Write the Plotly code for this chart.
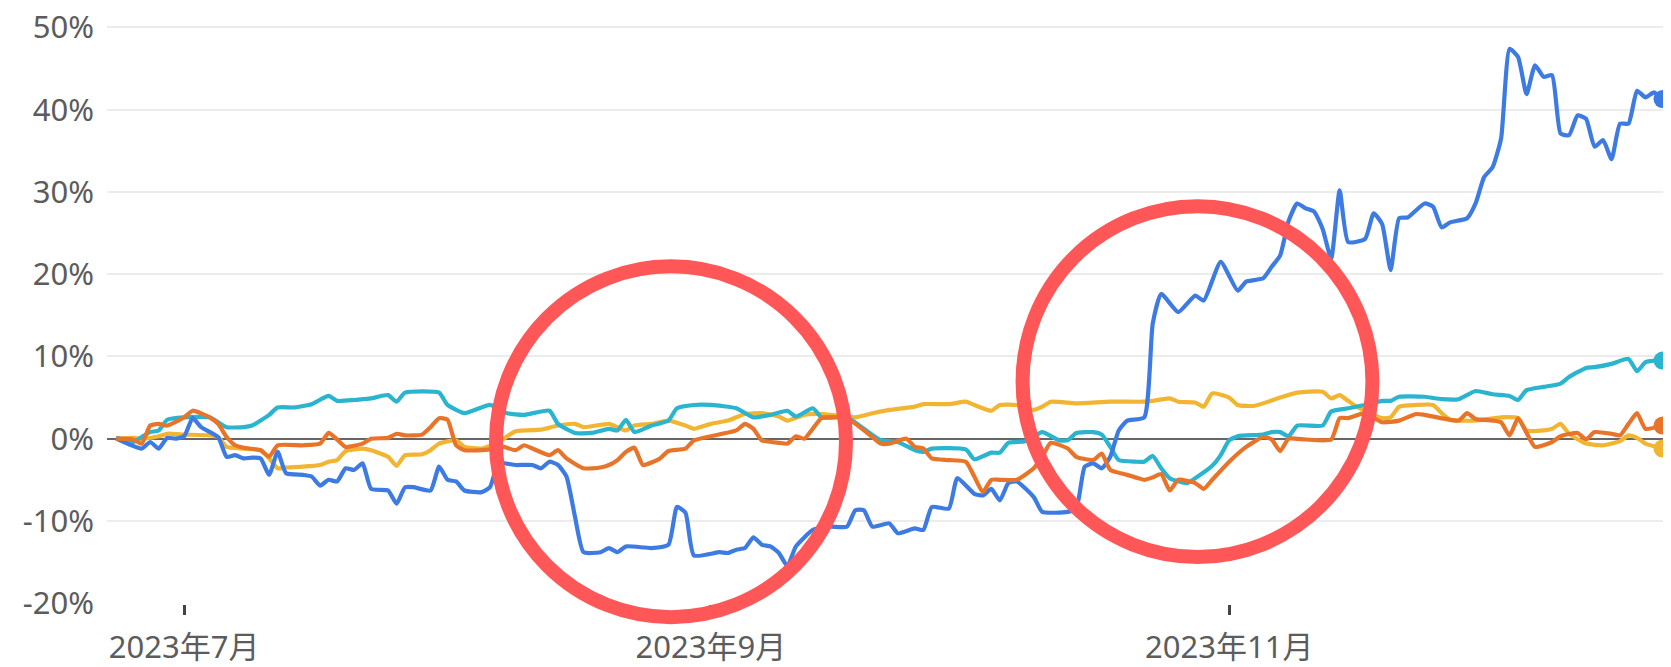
import plotly.graph_objects as go

# (date "MM-DD" in 2023, return in %)
blue_pts = [
    ("06-23", 0.0), ("06-26", -1.2), ("06-27", -0.4), ("06-28", -1.2), ("06-29", 0.1), ("06-30", 0.0),
    ("07-01", 0.3), ("07-02", 2.5), ("07-03", 1.4), ("07-05", 0.2), ("07-06", -2.2), ("07-07", -2.0),
    ("07-08", -2.4), ("07-09", -2.3), ("07-10", -2.4), ("07-11", -4.4), ("07-12", -1.6), ("07-13", -4.2),
    ("07-15", -4.4), ("07-16", -4.6), ("07-17", -5.7), ("07-18", -5.0), ("07-19", -5.2), ("07-20", -3.6),
    ("07-21", -3.8), ("07-22", -3.0), ("07-23", -6.1), ("07-25", -6.3), ("07-26", -7.9), ("07-27", -5.9),
    ("07-28", -5.9), ("07-30", -6.3), ("07-31", -3.4), ("08-01", -5.0), ("08-02", -5.2), ("08-03", -6.3),
    ("08-05", -6.5), ("08-06", -5.9), ("08-07", -3.0), ("08-09", -3.2), ("08-11", -3.2), ("08-12", -3.6),
    ("08-13", -2.8), ("08-14", -3.2), ("08-15", -4.6), ("08-16", -9.5), ("08-17", -13.8), ("08-19", -13.8),
    ("08-20", -13.3), ("08-21", -13.8), ("08-22", -13.1), ("08-25", -13.3), ("08-27", -12.9), ("08-28", -8.3),
    ("08-29", -9.0), ("08-30", -14.2), ("09-02", -13.8), ("09-03", -13.9), ("09-04", -13.5), ("09-05", -13.3),
    ("09-06", -12.0), ("09-07", -12.9), ("09-08", -13.1), ("09-09", -13.9), ("09-10", -15.5), ("09-11", -13.1),
    ("09-13", -11.1), ("09-15", -10.7), ("09-17", -10.7), ("09-18", -8.7), ("09-19", -8.7), ("09-20", -10.7),
    ("09-22", -10.3), ("09-23", -11.5), ("09-25", -10.9), ("09-26", -11.1), ("09-27", -8.3), ("09-29", -8.5),
    ("09-30", -4.8), ("10-02", -6.7), ("10-03", -6.9), ("10-04", -6.1), ("10-05", -7.5), ("10-06", -5.4),
    ("10-07", -5.2), ("10-09", -7.1), ("10-10", -8.9), ("10-13", -8.9), ("10-14", -8.5), ("10-15", -3.4),
    ("10-16", -3.0), ("10-17", -3.6), ("10-18", -2.2), ("10-19", 1.0), ("10-20", 2.2), ("10-22", 2.6),
    ("10-23", 14.0), ("10-24", 17.6), ("10-26", 15.4), ("10-28", 17.4), ("10-29", 16.8), ("10-31", 21.5),
    ("11-02", 18.0), ("11-03", 19.1), ("11-05", 19.5), ("11-06", 20.9), ("11-07", 22.3), ("11-08", 26.5),
    ("11-09", 28.6), ("11-10", 28.0), ("11-11", 27.6), ("11-12", 25.5), ("11-13", 21.9), ("11-14", 30.2),
    ("11-15", 23.9), ("11-17", 24.3), ("11-18", 27.4), ("11-19", 26.1), ("11-20", 20.5), ("11-21", 26.8),
    ("11-22", 26.9), ("11-24", 28.6), ("11-25", 28.2), ("11-26", 25.7), ("11-27", 26.3), ("11-29", 26.8),
    ("11-30", 28.6), ("12-01", 31.8), ("12-02", 33.0), ("12-03", 36.5), ("12-04", 47.4), ("12-05", 46.4),
    ("12-06", 41.9), ("12-07", 45.4), ("12-08", 44.0), ("12-09", 44.2), ("12-10", 37.1), ("12-11", 36.9),
    ("12-12", 39.3), ("12-13", 38.9), ("12-14", 35.5), ("12-15", 36.3), ("12-16", 34.0), ("12-17", 38.3),
    ("12-18", 38.3), ("12-19", 42.3), ("12-20", 41.5), ("12-21", 42.1), ("12-22", 41.3),
]

cyan_pts = [
    ("06-23", 0.1), ("06-25", -0.4), ("06-26", 0.2), ("06-27", 0.8), ("06-28", 1.0), ("06-29", 2.3),
    ("07-01", 2.6), ("07-04", 2.6), ("07-05", 2.0), ("07-06", 1.4), ("07-08", 1.4), ("07-09", 1.6),
    ("07-11", 2.9), ("07-12", 3.8), ("07-14", 3.8), ("07-16", 4.2), ("07-18", 5.2), ("07-19", 4.6),
    ("07-21", 4.7), ("07-22", 4.8), ("07-23", 4.9), ("07-25", 5.3), ("07-26", 4.5), ("07-27", 5.6),
    ("07-31", 5.6), ("08-01", 4.1), ("08-03", 3.1), ("08-06", 4.1), ("08-08", 3.1), ("08-10", 2.9),
    ("08-13", 3.4), ("08-14", 1.8), ("08-16", 0.7), ("08-18", 0.7), ("08-20", 1.2), ("08-21", 1.0),
    ("08-22", 2.3), ("08-23", 0.8), ("08-25", 1.6), ("08-27", 2.2), ("08-28", 3.7), ("08-30", 4.1),
    ("09-01", 4.1), ("09-04", 3.7), ("09-06", 2.6), ("09-08", 2.9), ("09-10", 3.4), ("09-11", 2.7),
    ("09-13", 3.7), ("09-14", 2.6), ("09-17", 2.6), ("09-19", 1.2), ("09-21", -0.2), ("09-23", -0.4),
    ("09-25", -1.4), ("09-26", -1.6), ("09-27", -1.2), ("10-01", -1.3), ("10-02", -2.5), ("10-04", -1.7),
    ("10-05", -1.7), ("10-06", -0.5), ("10-08", -0.3), ("10-10", 0.8), ("10-12", -0.2), ("10-13", -0.2),
    ("10-14", 0.7), ("10-16", 0.8), ("10-17", 0.5), ("10-18", -1.0), ("10-19", -2.6), ("10-21", -2.8),
    ("10-22", -2.8), ("10-23", -2.1), ("10-24", -3.6), ("10-25", -4.8), ("10-27", -5.4), ("10-28", -4.8),
    ("10-30", -3.3), ("10-31", -2.0), ("11-01", -0.2), ("11-02", 0.3), ("11-05", 0.5), ("11-06", 0.8),
    ("11-07", 0.8), ("11-08", 0.3), ("11-09", 1.6), ("11-12", 1.6), ("11-13", 3.3), ("11-15", 3.7),
    ("11-17", 4.1), ("11-19", 4.6), ("11-20", 4.6), ("11-21", 5.1), ("11-24", 5.1), ("11-26", 4.8),
    ("11-28", 4.8), ("11-30", 5.8), ("12-02", 5.4), ("12-04", 5.2), ("12-05", 4.7), ("12-06", 5.9),
    ("12-08", 6.3), ("12-10", 6.7), ("12-11", 7.5), ("12-13", 8.6), ("12-14", 8.7), ("12-16", 9.1),
    ("12-18", 9.7), ("12-19", 8.2), ("12-20", 9.3), ("12-21", 9.5), ("12-22", 9.5),
]

yellow_pts = [
    ("06-23", 0.0), ("06-25", 0.1), ("06-26", 0.0), ("06-28", 0.3), ("06-29", 0.6), ("07-01", 0.5),
    ("07-04", 0.4), ("07-05", 0.2), ("07-06", -1.0), ("07-08", -1.2), ("07-10", -1.4), ("07-11", -2.4),
    ("07-12", -3.6), ("07-13", -3.5), ("07-15", -3.4), ("07-17", -3.2), ("07-18", -2.8), ("07-19", -2.6),
    ("07-20", -1.5), ("07-22", -1.2), ("07-23", -1.4), ("07-25", -2.2), ("07-26", -3.3), ("07-27", -2.0),
    ("07-29", -1.9), ("07-30", -1.4), ("07-31", -0.6), ("08-02", -0.2), ("08-03", -1.0), ("08-05", -1.2),
    ("08-07", -0.4), ("08-09", 0.9), ("08-12", 1.1), ("08-14", 1.6), ("08-16", 1.8), ("08-17", 1.4),
    ("08-20", 1.8), ("08-21", 1.4), ("08-22", 1.0), ("08-23", 1.6), ("08-25", 1.8), ("08-27", 2.2),
    ("08-29", 1.6), ("08-30", 1.2), ("09-01", 1.8), ("09-03", 2.2), ("09-05", 3.0), ("09-07", 3.1),
    ("09-09", 2.7), ("09-10", 2.2), ("09-12", 2.9), ("09-14", 3.0), ("09-18", 2.6), ("09-20", 3.1),
    ("09-22", 3.5), ("09-25", 3.9), ("09-26", 4.2), ("09-29", 4.2), ("10-01", 4.5), ("10-02", 4.1),
    ("10-04", 3.4), ("10-05", 4.1), ("10-07", 4.1), ("10-09", 3.5), ("10-10", 3.9), ("10-11", 4.5),
    ("10-14", 4.3), ("10-18", 4.5), ("10-22", 4.5), ("10-23", 4.6), ("10-25", 4.9), ("10-26", 4.5),
    ("10-28", 4.4), ("10-29", 3.9), ("10-30", 5.5), ("11-01", 5.0), ("11-02", 4.1), ("11-04", 4.0),
    ("11-07", 5.0), ("11-09", 5.6), ("11-12", 5.7), ("11-13", 4.9), ("11-14", 5.3), ("11-15", 4.6),
    ("11-16", 3.9), ("11-19", 2.5), ("11-20", 2.6), ("11-21", 3.9), ("11-23", 4.1), ("11-25", 4.1),
    ("11-26", 3.1), ("11-27", 2.3), ("11-30", 2.2), ("12-03", 2.6), ("12-05", 2.5), ("12-06", 1.0),
    ("12-08", 1.0), ("12-09", 1.2), ("12-10", 1.8), ("12-11", 0.6), ("12-13", -0.6), ("12-15", -0.8),
    ("12-17", -0.3), ("12-18", 0.4), ("12-19", 0.1), ("12-20", -0.6), ("12-22", -1.2),
]

orange_pts = [
    ("06-23", 0.0), ("06-25", -0.1), ("06-26", -0.6), ("06-27", 1.6), ("06-28", 1.8), ("06-29", 1.6),
    ("07-01", 2.6), ("07-02", 3.4), ("07-04", 2.6), ("07-05", 1.8), ("07-06", 0.2), ("07-07", -0.8),
    ("07-08", -1.1), ("07-10", -1.4), ("07-11", -2.2), ("07-12", -0.8), ("07-15", -0.8), ("07-17", -0.6),
    ("07-18", 0.7), ("07-19", -0.1), ("07-20", -1.0), ("07-22", -0.6), ("07-23", 0.0), ("07-25", 0.1),
    ("07-26", 0.6), ("07-27", 0.4), ("07-29", 0.5), ("07-30", 1.4), ("07-31", 2.5), ("08-01", 2.3),
    ("08-02", -0.8), ("08-03", -1.4), ("08-06", -1.3), ("08-07", -0.8), ("08-09", -1.4), ("08-10", -0.8),
    ("08-11", -1.2), ("08-13", -2.0), ("08-14", -1.4), ("08-15", -2.4), ("08-17", -3.6), ("08-19", -3.5),
    ("08-20", -3.2), ("08-21", -2.6), ("08-22", -1.6), ("08-23", -1.1), ("08-24", -3.2), ("08-26", -2.4),
    ("08-27", -1.5), ("08-29", -1.2), ("08-30", -0.2), ("09-01", 0.3), ("09-04", 1.0), ("09-05", 1.8),
    ("09-06", 1.2), ("09-07", -0.2), ("09-09", -0.5), ("09-10", -0.6), ("09-11", 0.3), ("09-12", 0.0),
    ("09-14", 2.5), ("09-15", 2.6), ("09-17", 2.5), ("09-20", 0.2), ("09-21", -0.6), ("09-22", -0.6),
    ("09-24", 0.0), ("09-25", -1.0), ("09-26", -1.2), ("09-27", -2.4), ("09-29", -2.6), ("10-01", -2.8),
    ("10-02", -4.6), ("10-03", -6.5), ("10-04", -5.0), ("10-05", -5.0), ("10-07", -5.0), ("10-09", -3.6),
    ("10-10", -2.2), ("10-11", -0.5), ("10-13", -1.2), ("10-14", -2.2), ("10-16", -2.6), ("10-17", -1.8),
    ("10-18", -3.8), ("10-20", -4.4), ("10-22", -5.0), ("10-23", -4.7), ("10-24", -4.3), ("10-25", -6.3),
    ("10-26", -5.0), ("10-28", -5.4), ("10-29", -6.1), ("10-30", -5.0), ("11-01", -2.8), ("11-03", -1.0),
    ("11-05", 0.2), ("11-06", -0.1), ("11-07", -1.5), ("11-08", 0.0), ("11-10", -0.1), ("11-13", -0.1),
    ("11-14", 2.5), ("11-15", 2.5), ("11-17", 3.1), ("11-19", 2.0), ("11-21", 2.2), ("11-23", 3.0),
    ("11-24", 2.9), ("11-28", 2.2), ("11-29", 3.1), ("11-30", 2.4), ("12-02", 2.2), ("12-03", 2.0),
    ("12-04", 0.4), ("12-05", 2.5), ("12-06", 0.7), ("12-07", -1.0), ("12-09", -0.4), ("12-10", 0.3),
    ("12-12", 0.7), ("12-13", -0.1), ("12-14", 0.8), ("12-16", 0.6), ("12-17", 0.4), ("12-18", 1.8),
    ("12-19", 3.1), ("12-20", 1.2), ("12-22", 1.6),
]

tick_dates = ["2023-07-01", "2023-09-01", "2023-11-01"]
tick_labels = ["2023年7月", "2023年9月", "2023年11月"]
y_ticks = [-20, -10, 0, 10, 20, 30, 40, 50]
y_labels = ["-20%", "-10%", "0%", "10%", "20%", "30%", "40%", "50%"]

series = [
    ("yellow", yellow_pts, "#f2b531"),
    ("cyan", cyan_pts, "#2ab4cf"),
    ("blue", blue_pts, "#3d7be3"),
    ("orange", orange_pts, "#e8742a"),
]

fig = go.Figure()
for name, pts, color in series:
    xs = ["2023-" + d for d, _ in pts]
    ys = [v for _, v in pts]
    fig.add_trace(go.Scatter(
        x=xs, y=ys, name=name, mode="lines",
        line=dict(color=color, width=4.2, shape="spline", smoothing=0.5),
        showlegend=False, hoverinfo="skip",
    ))
# end-point dots, drawn on top
for name, pts, color in series:
    fig.add_trace(go.Scatter(
        x=["2023-" + pts[-1][0]], y=[pts[-1][1]], mode="markers",
        marker=dict(color=color, size=18, line=dict(width=0)),
        showlegend=False, hoverinfo="skip",
    ))

# note: the page body has an 8px default margin, so the figure sits 8px in
red = "#ff5757"
fig.add_shape(type="circle", xref="paper", yref="paper",
              x0=0.2487, x1=0.4725, y0=-0.0227, y1=0.5832,
              line=dict(color=red, width=14), layer="above")
fig.add_shape(type="circle", xref="paper", yref="paper",
              x0=0.5854, x1=0.8091, y0=0.0812, y1=0.687,
              line=dict(color=red, width=14), layer="above")

font = dict(family="Noto Sans, Noto Sans CJK SC, sans-serif", size=31, color="#5c5c5c")

fig.update_layout(
    width=1671, height=667,
    margin=dict(l=99, r=8, t=16.5, b=70.7),
    paper_bgcolor="white", plot_bgcolor="white",
    font=font,
    xaxis=dict(
        type="date",
        range=["2023-06-21 22:00", "2023-12-23 00:00"],
        tickvals=tick_dates, ticktext=tick_labels,
        ticks="outside", ticklen=10, tickwidth=2.5, tickcolor="#444444",
        showgrid=False, zeroline=False, showline=False,
        tickfont=font, ticklabelstandoff=6, ticklabeloverflow="allow",
        automargin=False,
    ),
    yaxis=dict(
        range=[-20.1, 50.3], tickvals=y_ticks, ticktext=y_labels,
        showgrid=True, gridcolor="#ececec", gridwidth=2,
        zeroline=True, zerolinecolor="#666666", zerolinewidth=2,
        showline=False, tickfont=font, ticklabelstandoff=12,
        ticklabeloverflow="allow", automargin=False,
    ),
)

fig.write_html("out.html")
